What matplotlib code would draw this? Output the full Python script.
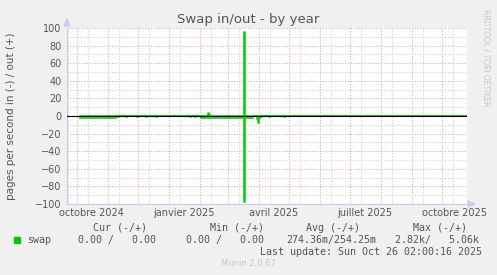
import datetime as dt
import numpy as np
import matplotlib
matplotlib.use("Agg")
import matplotlib.pyplot as plt

# --- data ---
start = dt.datetime(2024, 9, 21, 2, 0)
end = dt.datetime(2025, 10, 26, 2, 0)
n_days = 400

# "in" segments: first day, last day (days after start), pages/s (drawn negative)
in_first = [13, 51, 59, 70, 79, 89, 123, 128, 134, 177, 178, 190, 191, 192, 194, 202, 217]
in_last = [48, 51, 59, 70, 79, 89, 123, 128, 176, 177, 185, 190, 191, 192, 194, 202, 217]
in_value = [2.0, 1.5, 1.5, 1.5, 1.5, 1.5, 1.5, 1.5, 2.0, 98.0, 2.0, 3.0, 8.0, 2.5, 1.5, 1.5, 1.5]

# "out" events: day, pages/s
out_day = [141, 142, 177]
out_value = [3.0, 1.5, 95.0]

# data exists from this day on
data_from = 13

cats = ["swap"]
cur = ["0.00 /   0.00"]
mins = ["0.00 /   0.00"]
avgs = ["274.36m/254.25m"]
maxs = ["2.82k/   5.06k"]
month_labels = ["octobre 2024", "janvier 2025", "avril 2025", "juillet 2025", "octobre 2025"]
label_dates = [dt.datetime(2024, 10, 16), dt.datetime(2025, 1, 16), dt.datetime(2025, 4, 16),
               dt.datetime(2025, 7, 16), dt.datetime(2025, 10, 14)]

# build daily series from the segments
days = np.arange(n_days + 1)
swap_in = np.zeros(len(days))
swap_out = np.zeros(len(days))
for a, b, v in zip(in_first, in_last, in_value):
    swap_in[a:b + 1] = v
for d, v in zip(out_day, out_value):
    swap_out[d] = v
swap_in[:data_from] = np.nan
swap_out[:data_from] = np.nan
dates = [start + dt.timedelta(days=int(d)) for d in days]

W, H = 497, 275
fig = plt.figure(figsize=(W / 100, H / 100), dpi=100, facecolor="#F0F0F0")
L, R, T, B = 67, 467, 28, 204
ax = fig.add_axes([L / W, 1 - B / H, (R - L) / W, (B - T) / H], facecolor="white")

grey = "#555555"
green = "#00CC00"
minor_c = "#D0D0D0"
major_c = "#E8A8A8"
dots = (0, (1, 1.5))

# grid
major_x = [dt.datetime(y, m, 1) for y, m in
           [(2024, 10), (2024, 11), (2024, 12), (2025, 1), (2025, 2), (2025, 3), (2025, 4),
            (2025, 5), (2025, 6), (2025, 7), (2025, 8), (2025, 9), (2025, 10)]]
minor_x = [d + dt.timedelta(days=11) for d in major_x] + [dt.datetime(2024, 9, 22)]
for d in minor_x:
    ax.axvline(d, color=minor_c, lw=0.8, ls=dots, zorder=1)
for d in major_x:
    ax.axvline(d, color=major_c, lw=0.8, ls=dots, zorder=1)
for v in range(-90, 100, 20):
    ax.axhline(v, color=minor_c, lw=0.8, ls=dots, zorder=1)
for v in range(-100, 101, 20):
    if v != 0:
        ax.axhline(v, color=major_c, lw=0.8, ls=dots, zorder=1)

ax.plot(dates, -swap_in, color=green, lw=1.1, drawstyle="steps-mid", zorder=3)
ax.plot(dates, swap_out, color=green, lw=1.1, drawstyle="steps-mid", zorder=3)
ax.axhline(0, color="black", lw=0.8, zorder=4)

ax.set_xlim(start, end)
ax.set_ylim(-100, 100)
ax.set_yticks(range(-100, 101, 20))
ax.set_xticks(label_dates)
ax.set_xticklabels(month_labels)
ax.tick_params(axis="both", length=0, labelsize=7, labelcolor=grey, pad=4)
ax.tick_params(axis="x", pad=3)

for s in ["top", "right"]:
    ax.spines[s].set_visible(False)
for s in ["left", "bottom"]:
    ax.spines[s].set_color("#CCCCEE")
    ax.spines[s].set_linewidth(0.8)

# axis arrows
fig.patches.append(plt.Polygon([[L / W, 1 - 19 / H], [(L - 3) / W, 1 - 26 / H], [(L + 3) / W, 1 - 26 / H]],
                               closed=True, transform=fig.transFigure, color="#CCCCEE", zorder=5))
fig.patches.append(plt.Polygon([[(R + 8) / W, 1 - B / H], [(R + 1) / W, 1 - (B - 3) / H], [(R + 1) / W, 1 - (B + 3) / H]],
                               closed=True, transform=fig.transFigure, color="#CCCCEE", zorder=5))


def px(x, y):
    return x / W, 1 - y / H


fig.text(*px(248, 19), "Swap in/out - by year", ha="center", va="center", fontsize=9.5, color=grey)
fig.text(*px(11, 116), "pages per second in (-) / out (+)", ha="center", va="center",
         rotation=90, fontsize=7.5, color=grey)
fig.text(*px(486, 58), "RRDTOOL / TOBI OETIKER", ha="center", va="center", rotation=270,
         fontsize=5.5, color="#C8C8C8")

mono = dict(family="DejaVu Sans Mono", fontsize=7.2, color=grey, va="center")
fig.text(*px(120, 228), "Cur (-/+)", ha="center", **mono)
fig.text(*px(237, 228), "Min (-/+)", ha="center", **mono)
fig.text(*px(333, 228), "Avg (-/+)", ha="center", **mono)
fig.text(*px(440, 228), "Max (-/+)", ha="center", **mono)
for i, name in enumerate(cats):
    y = 240 + 12 * i
    fig.patches.append(plt.Rectangle(px(14, y + 3), 6 / W, 6 / H, transform=fig.transFigure,
                                     color=green, zorder=5))
    fig.text(*px(27, y), name, ha="left", **mono)
    fig.text(*px(156, y), cur[i], ha="right", **mono)
    fig.text(*px(264, y), mins[i], ha="right", **mono)
    fig.text(*px(376, y), avgs[i], ha="right", **mono)
    fig.text(*px(479, y), maxs[i], ha="right", **mono)
fig.text(*px(482, 252), "Last update: Sun Oct 26 02:00:16 2025", ha="right", **mono)
fig.text(*px(248, 264), "Munin 2.0.67", ha="center", va="center", fontsize=6, color="#C8C8C8")

fig.savefig("out.png", dpi=100, facecolor=fig.get_facecolor())
